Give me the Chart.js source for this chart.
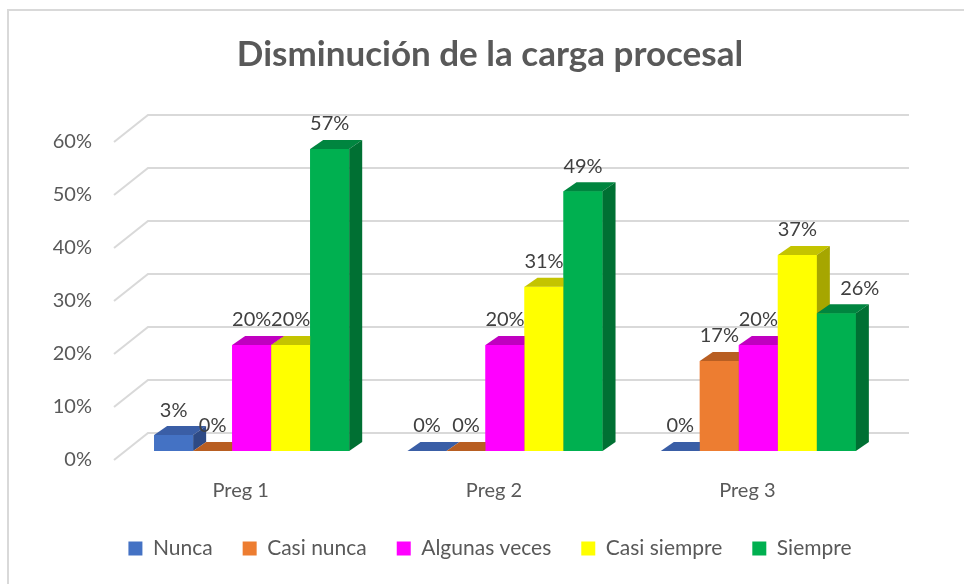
<!DOCTYPE html>
<html>
<head>
<meta charset="utf-8">
<script src="https://cdn.jsdelivr.net/npm/chart.js@4"></script>
<style>
  html, body { margin: 0; padding: 0; background: #fff; }
  #wrap { width: 964px; height: 584px; }
</style>
</head>
<body>
<div id="wrap"><canvas id="chart" width="964" height="584"></canvas></div>
<script>
// ── Data ─────────────────────────────────────────────────────────────
const categories   = ['Preg 1', 'Preg 2', 'Preg 3'];
const seriesNames  = ['Nunca', 'Casi nunca', 'Algunas veces', 'Casi siempre', 'Siempre'];
const nunca        = [3, 0, 0];
const casiNunca    = [0, 0, 17];
const algunasVeces = [20, 20, 20];
const casiSiempre  = [20, 31, 37];
const siempre      = [57, 49, 26];
const yTicks       = [0, 10, 20, 30, 40, 50, 60];

// front / top / side colours for the fake 3D faces
const frontColors = ['#4472C4', '#ED7D31', '#FF00FF', '#FFFF00', '#00B050'];
const topColors   = ['#3A5EA6', '#B85E22', '#C000C0', '#C4C400', '#00853F'];
const sideColors  = ['#2E4A85', '#A5521C', '#A000A0', '#A6A600', '#007033'];

const FONT = 'Lato, "Open Sans", sans-serif';
const DX = 13, DY = 9;   // bar depth

const allSeries = [nunca, casiNunca, algunasVeces, casiSiempre, siempre];

// ── Plugins ──────────────────────────────────────────────────────────
const frame = {
  id: 'frame',
  beforeDraw(chart) {
    const ctx = chart.ctx;
    ctx.save();
    ctx.fillStyle = '#fff';
    ctx.fillRect(0, 0, chart.width, chart.height);
    ctx.strokeStyle = '#d9d9d9';
    ctx.lineWidth = 2;
    ctx.strokeRect(8, 10, chart.width + 20, chart.height + 20);
    ctx.restore();
  }
};

// back wall + side wall gridlines
const wallGrid = {
  id: 'wallGrid',
  beforeDatasetsDraw(chart) {
    const { ctx, chartArea, scales: { y } } = chart;
    ctx.save();
    ctx.strokeStyle = '#d9d9d9';
    ctx.lineWidth = 2;
    y.ticks.forEach(t => {
      const s = y.getPixelForValue(t.value);
      ctx.beginPath();
      ctx.moveTo(chartArea.left - 11, s + 9);
      ctx.lineTo(chartArea.left + 23, s - 18);
      ctx.lineTo(chartArea.right + 24, s - 18);
      ctx.stroke();
    });
    ctx.restore();
  }
};

// redraw every bar left to right with its top and side faces,
// so each bar overlaps the side face of the one before it
const faces = {
  id: 'faces',
  afterDatasetsDraw(chart) {
    const ctx = chart.ctx;
    ctx.save();
    chart.data.datasets.forEach((ds, i) => {
      chart.getDatasetMeta(i).data.forEach(bar => {
        bar.draw(ctx);
        const { x, y, base, width } = bar.getProps(['x', 'y', 'base', 'width'], true);
        const x1 = x - width / 2, x2 = x + width / 2;
        ctx.fillStyle = topColors[i];
        ctx.beginPath();
        ctx.moveTo(x1, y); ctx.lineTo(x2, y);
        ctx.lineTo(x2 + DX, y - DY); ctx.lineTo(x1 + DX, y - DY);
        ctx.closePath(); ctx.fill();
        ctx.fillStyle = sideColors[i];
        ctx.beginPath();
        ctx.moveTo(x2, y); ctx.lineTo(x2 + DX, y - DY);
        ctx.lineTo(x2 + DX, base - DY); ctx.lineTo(x2, base);
        ctx.closePath(); ctx.fill();
      });
    });
    ctx.restore();
  }
};

// value labels above bars; nudged right when the bar to the left is taller
const valueLabels = {
  id: 'valueLabels',
  afterDatasetsDraw(chart) {
    const ctx = chart.ctx;
    ctx.save();
    ctx.font = '20px ' + FONT;
    ctx.fillStyle = '#404040';
    ctx.textAlign = 'center';
    ctx.textBaseline = 'middle';
    chart.data.datasets.forEach((ds, di) => {
      chart.getDatasetMeta(di).data.forEach((bar, j) => {
        const ly = bar.y - 25;
        let lx = bar.x;
        if (di > 0) {
          const prev = chart.getDatasetMeta(di - 1).data[j];
          if (prev.y < ly - 10) lx += bar.width * 0.6;
        }
        ctx.fillText(ds.data[j] + '%', lx, ly);
      });
    });
    ctx.restore();
  }
};

// ── Chart ────────────────────────────────────────────────────────────
new Chart(document.getElementById('chart'), {
  type: 'bar',
  data: {
    labels: categories,
    datasets: seriesNames.map((name, i) => ({
      label: name,
      data: allSeries[i],
      backgroundColor: frontColors[i],
      borderWidth: 0,
      categoryPercentage: 0.77,
      barPercentage: 1
    }))
  },
  options: {
    responsive: false,
    animation: false,
    layout: { padding: { left: 16, right: 0, top: 0, bottom: 15 } },
    plugins: {
      title: {
        display: true,
        text: 'Disminución de la carga procesal',
        color: '#595959',
        font: { family: FONT, size: 35, weight: 'bold' },
        padding: { top: 34, bottom: 57 }
      },
      legend: {
        position: 'bottom',
        maxHeight: 76,
        labels: {
          color: '#595959',
          font: { family: FONT, size: 21 },
          boxWidth: 14,
          boxHeight: 14,
          padding: 30
        }
      },
      tooltip: { enabled: false }
    },
    scales: {
      x: {
        grid: { display: false, drawTicks: false },
        border: { display: false },
        ticks: { color: '#595959', font: { family: FONT, size: 20 }, padding: 28, labelOffset: -11 },
        afterFit(scale) { scale.height = 57; }
      },
      y: {
        min: 0,
        max: 60,
        afterBuildTicks(scale) { scale.ticks = yTicks.map(v => ({ value: v })); },
        grid: { display: false, drawTicks: false },
        border: { display: false },
        ticks: {
          color: '#595959',
          font: { family: FONT, size: 20 },
          padding: 33,
          labelOffset: 9,
          callback: v => v + '%'
        },
        afterFit(scale) { scale.width = 109; }
      },
      // empty right-hand axis, only reserves the margin right of the plot
      yRight: {
        position: 'right',
        grid: { display: false, drawTicks: false },
        border: { display: false },
        ticks: { display: false },
        afterFit(scale) { scale.width = 79; }
      }
    }
  },
  plugins: [frame, wallGrid, faces, valueLabels]
});
</script>
</body>
</html>
